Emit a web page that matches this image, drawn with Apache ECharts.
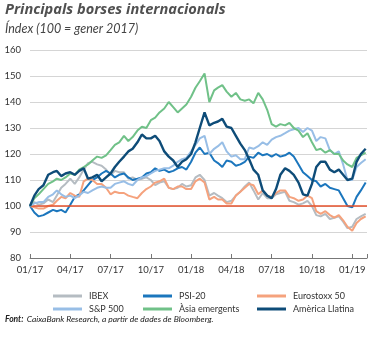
<!DOCTYPE html>
<html><head><meta charset="utf-8">
<script src="https://cdn.jsdelivr.net/npm/echarts@6/dist/echarts.min.js"></script>
<style>html,body{margin:0;padding:0;background:#fff}#c{width:375px;height:338px}</style>
</head><body><div id="c"></div>
<script>
// sample dates: 1st, 11th and 21st of each month, Jan 2017 - Jan 2019, plus 1 Feb 2019
const sampleDays = [1, 11, 21];
const dates = [];
for (let y = 2017; y <= 2019; y++) {
  for (let m = 1; m <= 12; m++) {
    if (y === 2019 && m > 1) break;
    sampleDays.forEach(d => dates.push(y + '-' + String(m).padStart(2,'0') + '-' + String(d).padStart(2,'0')));
  }
}
dates.push('2019-02-01');

const ibex = [100,101.5,100.5, 101,102.5,101.5, 104,107,108.5, 110.5,108.5,111, 114,116.5,117, 116,115.5,114,
  112,113.5,113, 113,110.5,111, 110,110.5,111, 110,108,109, 109.5,107,106.5, 107,108.5,107.5,
  108,111,112, 110,104,105, 104,103,101.5, 102,104,105.5, 107.5,109,106, 102.5,105,103,
  103,104.5,105, 105.5,102,101.5, 100.5,101,102, 100,96.5,96, 97,95,95.5, 96,94,91.5,
  92,95,96, 97];
const psi20 = [100,97.5,96, 96.5,97.5,98.5, 98,98.5,97.5, 100.5,103.5,104.5, 106,108,110, 111,112.5,113.5,
  112.5,111,112, 112.5,111,110, 110.5,111,112.5, 113,114.5,113.5, 114,113,113.5, 114.5,115,114,
  117,120.5,122.5, 120,120.5,117.5, 116.5,115,117.5, 117,115.5,116, 117,119,118.5, 120.5,119.5,120,
  119,120,119, 119.5,120.5,119, 116,113,111.5, 110,109.5,107.5, 108.5,107,106.5, 106,103,100,
  99.5,103.5,106, 109];
const eurostoxx = [100,99.5,99, 99,100,100.5, 102,103.5,103, 105,104,103.5, 109.5,110.5,110, 108.5,108.5,107,
  104.5,105.5,105, 105,104,103.5, 103,105,106.5, 107.5,109,109.5, 110.5,107,106.5, 107.5,107.5,106.5,
  106.5,109.5,110.5, 109,102.5,103.5, 102.5,102.5,101, 101,104,105.5, 107,108.5,108, 104.5,106,104,
  103.5,105,106, 106,103.5,103, 102,102.5,104, 103,98,97, 98,96.5,95.5, 96.5,94.5,92,
  90.5,93.5,95, 96];
const sp500 = [100,101,101.5, 101.5,103.5,104.5, 106,104.5,103.5, 104,103,104, 105.5,105,106, 107,107.5,107,
  107,108.5,109, 109.5,108.5,108, 110,111,111.5, 112.5,113.5,114, 114.5,114.5,115.5, 117,118,118.5,
  121,123.5,126, 127,120,122, 123,124.5,121, 119,119.5,118, 118,122.5,122, 123,124.5,123.5,
  125.5,126.5,127, 128,129,129.5, 130,128.5,130, 129,125,126.5, 126,121.5,120, 121,116,110,
  110,115,116.5, 118];
const asia = [100,103,104.5, 106.5,108.5,109.5, 110.5,110,111, 112.5,112,114, 115,116,117.5, 119,118.5,119.5,
  121.5,123.5,124.5, 127,125,126.5, 129,130.5,130, 133,134,136, 137.5,140,138, 136,137.5,139,
  142,145.5,148, 151,140,144.5, 145.5,146.5,144, 142,143.5,141, 140.5,141,139.5, 143.5,141,137,
  131.5,130.5,131.5, 131,132,130, 129,126.5,128, 124.5,121.5,122, 120.5,121.5,120, 120,117.5,116,
  115,118.5,119.5, 120.5];
const latam = [100,104,106.5, 108,112,113, 113.5,111.5,112.5, 113,112,113.5, 114.5,110.5,111, 112,109.5,111,
  112.5,115,117, 119,121,122, 124.5,127.5,126, 126,127,125, 121,119,117.5, 115,117,118,
  120,124.5,130, 136,131,132, 132.5,133.5,130.5, 130,127,124, 121.5,118,114, 112,106,104,
  103,106.5,112, 114.5,113.5,112, 109,104.5,104, 108.5,115,117, 117,114,113, 114,112,110,
  110.5,117,120, 122];
const seriesNames = ['IBEX','PSI-20','Eurostoxx 50','S&P 500','Àsia emergents','Amèrica Llatina'];
const seriesValues = [ibex, psi20, eurostoxx, sp500, asia, latam];
const seriesColors = ['#b5bcc2','#1b76bd','#f5a27d','#98bee6','#70c188','#0e4c78'];
const tickLabels = ['01/17','04/17','07/17','10/17','01/18','04/18','07/18','10/18','01/19'];
const refLevel = 100;

function monthPos(d){
  const p = d.split('-').map(Number);
  const dim = new Date(p[0], p[1], 0).getDate();
  return (p[0]-2017)*12 + (p[1]-1) + (p[2]-1)/dim;
}
const xs = dates.map(monthPos);
const FONT = 'Lato';

const series = seriesNames.map((n,i)=>({
  name: n, type: 'line', showSymbol: false, symbol: 'none',
  lineStyle: {width: i===5 ? 2.4 : 2, color: seriesColors[i]},
  itemStyle: {color: seriesColors[i]},
  data: xs.map((x,j)=>[x, seriesValues[i][j]]),
  z: 2 + i,
  markLine: i===0 ? {silent:true, symbol:'none', label:{show:false},
    lineStyle:{color:'#e5502b', width:1.5, type:'solid'}, data:[{yAxis: refLevel}]} : undefined
}));

function legend(names, left){
  return {orient:'vertical', left: left, top: 285, itemWidth: 29, itemHeight: 3, itemGap: 1, icon: 'rect',
    data: names, selectedMode: false,
    textStyle: {fontFamily: FONT, fontSize: 9, color: '#333', lineHeight: 12, padding:[0,0,0,2]}};
}

const chart = echarts.init(document.getElementById('c'));
chart.setOption({
  animation: false,
  grid: {left: 30, right: 8, top: 50, bottom: 80},
  xAxis: {type:'value', min: 0, max: 25.1, interval: 3,
    axisLine:{show:true, lineStyle:{color:'#777', width:1}},
    axisTick:{show:true, inside:true, length:4, lineStyle:{color:'#777'}},
    splitLine:{show:false},
    axisLabel:{fontFamily: FONT, fontSize: 9.5, color:'#333', margin: 7,
      formatter: v => (Math.abs(v/3 - Math.round(v/3)) < 1e-6 ? (tickLabels[Math.round(v/3)] || '') : '')}
  },
  yAxis: {type:'value', min: 80, max: 160, interval: 10,
    axisLine:{show:false}, axisTick:{show:false},
    splitLine:{lineStyle:{color:'#d5d5d5', width:1}},
    axisLabel:{fontFamily: FONT, fontSize: 9.5, color:'#333', margin: 9}
  },
  legend: [legend(['IBEX','S&P 500'], 48), legend(['PSI-20','Àsia emergents'], 138), legend(['Eurostoxx 50','Amèrica Llatina'], 252)],
  graphic: [
    {type:'text', left: 5, top: 2, style:{text:'Principals borses internacionals', fontFamily: 'Open Sans', fontWeight:'bold', fontStyle:'italic', fontSize: 14.6, fill:'#505050'}},
    {type:'text', left: 5, top: 22, style:{text:'Índex (100 = gener 2017)', fontFamily: FONT, fontStyle:'italic', fontSize: 12.5, fill:'#444'}},
    {type:'text', left: 5, top: 313, style:{
      text:'{b|Font:} {n|CaixaBank Research, a partir de dades de Bloomberg.}',
      rich:{b:{fontFamily: FONT, fontWeight:'bold', fontStyle:'italic', fontSize: 8.5, fill:'#222'},
            n:{fontFamily: FONT, fontStyle:'italic', fontSize: 8.5, fill:'#222'}}}}
  ],
  series: series
});
</script></body></html>
